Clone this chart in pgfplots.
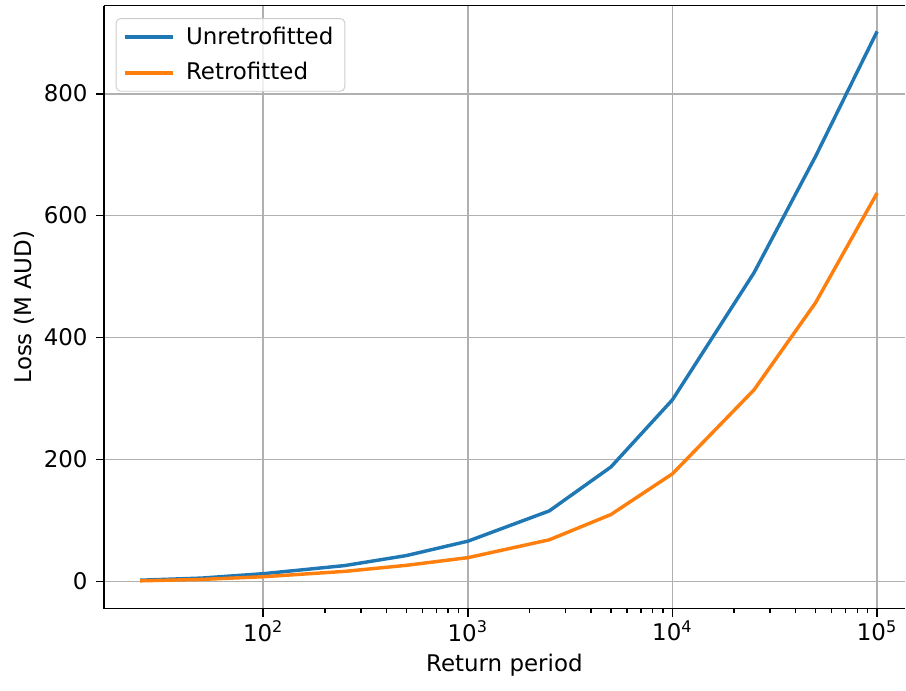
\documentclass[border=0pt]{standalone}
\usepackage{fontspec}
\setmainfont{DejaVu Sans}
\usepackage{pgfplots}
\pgfplotsset{compat=1.18}
\definecolor{mplblue}{HTML}{1F77B4}
\definecolor{mplorange}{HTML}{FF7F0E}
\definecolor{mplgrid}{HTML}{B0B0B0}
\definecolor{legframe}{HTML}{CCCCCC}

\begin{document}
\begin{tikzpicture}
\begin{semilogxaxis}[
    scale only axis,
    width=349.5pt, height=263pt,
    xmin=16.6, xmax=137000,
    ymin=-44.5, ymax=944.5,
    axis x line*=box, axis y line*=left,
    xtick pos=left, ytick pos=left,
    xtick={100,1000,10000,100000},
    xticklabels={10\textsuperscript{2},10\textsuperscript{3},10\textsuperscript{4},10\textsuperscript{5}},
    ytick={0,200,400,600,800},
    tick align=outside,
    major tick length=3.5pt,
    minor tick length=2pt,
    tick style={black, line width=0.8pt},
    minor tick style={black, line width=0.6pt},
    axis line style={black, line width=0.8pt},
    grid=major,
    major grid style={draw=mplgrid, line width=0.8pt},
    xlabel={Return period},
    ylabel={Loss (M AUD)},
    label style={font=\fontsize{10}{12}\selectfont},
    xlabel style={yshift=1.5pt},
    ylabel style={yshift=-3pt},
    tick label style={font=\fontsize{10}{12}\selectfont},
    xticklabel style={yshift=1.7pt},
    /pgf/number format/assume math mode=true,
    legend cell align={left},
    legend style={at={(0,1)}, anchor=north west, xshift=5.2pt, yshift=-5.5pt,
        draw=legframe, rounded corners=2pt, fill=white, fill opacity=0.8,
        text opacity=1, font=\fontsize{10}{12}\selectfont,
        inner xsep=3pt, inner ysep=1.5pt, row sep=2.5pt, column sep=3pt},
    legend image code/.code={\draw[#1] (0pt,0pt) -- (21pt,0pt);},
]
\addplot[color=mplblue, line width=1.5pt] coordinates {
    (25,2) (50,5.5) (100,12.7) (250,26) (500,42.4) (1000,66)
    (2500,115.7) (5000,187.7) (10000,298) (25000,506) (50000,697) (100000,902)
};
\addlegendentry{Unretrofitted}
\addplot[color=mplorange, line width=1.5pt] coordinates {
    (25,1) (50,3.3) (100,7.7) (250,16.5) (500,26.4) (1000,39)
    (2500,68.3) (5000,109.7) (10000,176.6) (25000,314) (50000,457) (100000,637)
};
\addlegendentry{Retrofitted}
\end{semilogxaxis}
% small margins as in the reference
\path ([xshift=-3pt]current bounding box.west) ([yshift=-3pt]current bounding box.south)
      ([yshift=2pt]current bounding box.north);
\end{tikzpicture}
\end{document}
